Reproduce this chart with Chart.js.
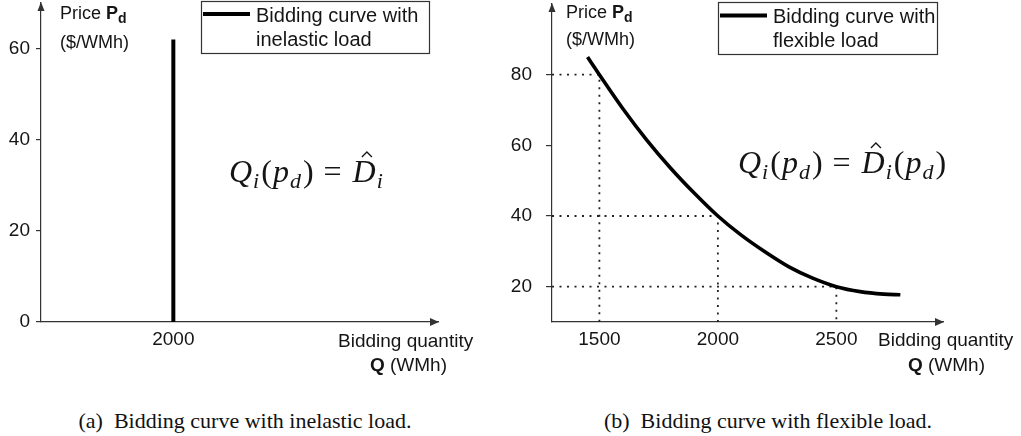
<!DOCTYPE html>
<html>
<head>
<meta charset="utf-8">
<title>Bidding curves</title>
<script src="https://cdn.jsdelivr.net/npm/chart.js@4.4.1/dist/chart.umd.min.js"></script>
<style>
  body { margin: 0; background: #fff; }
  #page { position: relative; width: 1021px; height: 436px; overflow: hidden; background: #fff; }
  #chartA { position: absolute; left: 0; top: 0; }
  #chartB { position: absolute; left: 500px; top: 0; }
  .caption { position: absolute; top: 410px; font: 22px "Liberation Serif", serif; line-height: 22px;
             white-space: nowrap; color: #111; transform: translateX(-50%); }
</style>
</head>
<body>
<div id="page">
  <canvas id="chartA" width="500" height="380"></canvas>
  <canvas id="chartB" width="521" height="380"></canvas>
  <div class="caption" id="capA" style="left:245px"></div>
  <div class="caption" id="capB" style="left:768px"></div>
</div>
<script>
// (a) inelastic load: vertical bid at a fixed quantity
var inelasticQ = [2000, 2000];
var inelasticP = [0, 62];
var xTicksA = [2000];
var yTicksA = [0, 20, 40, 60];
var legendA = ["Bidding curve with", "inelastic load"];

// (b) flexible load: price falls as quantity grows
var flexQ = [1450, 1500, 1600, 1700, 1800, 1900, 2000, 2100, 2200, 2300, 2400, 2500, 2600, 2700, 2770];
var flexP = [85, 80, 70.3, 61.5, 53.6, 46.5, 40, 34.5, 29.8, 25.6, 22.4, 20.0, 18.6, 17.9, 17.7];
var guideQ = [1500, 2000, 2500];
var guideP = [80, 40, 20];
var xTicksB = [1500, 2000, 2500];
var yTicksB = [20, 40, 60, 80];
var legendB = ["Bidding curve with", "flexible load"];

var captions = ["(a)\u2002Bidding curve with inelastic load.", "(b)\u2002Bidding curve with flexible load."];

var formulaA = [["Q", "it"], ["i", "sub"], ["(", "rm"], ["p", "it"], ["d", "sub"], [")", "rm"], ["=", "rel"], ["D", "hat"], ["i", "sub"]];
var formulaB = formulaA.concat([["(", "rm"], ["p", "it"], ["d", "sub"], [")", "rm"]]);

var SANS = '"Liberation Sans", Arial, sans-serif';
var SERIF = '"Liberation Serif", serif';
var AXIS = '#333';
var TXT = '#151515';

document.getElementById('capA').textContent = captions[0];
document.getElementById('capB').textContent = captions[1];

function pts(xs, ys) {
    return xs.map(function (x, i) { return {x: x, y: ys[i]}; });
}

function mathRuns(tokens) {
    return tokens.map(function (t) {
        var s = t[1];
        if (s == 'sub') return {text: t[0], font: 'italic 22px ' + SERIF, dy: 6, gap: 1};
        if (s == 'rm') return {text: t[0], font: '32px ' + SERIF, gap: 2};
        if (s == 'rel') return {text: t[0], font: '32px ' + SERIF, gap: 10, after: 10};
        if (s == 'hat') return {text: t[0], font: 'italic 32px ' + SERIF, hat: true, gap: 1};
        return {text: t[0], font: 'italic 32px ' + SERIF, gap: 1};
    });
}

function drawRuns(ctx, runs, x, y) {
    runs.forEach(function (r) {
        ctx.font = r.font;
        x += r.gap || 0;
        var w = ctx.measureText(r.text).width;
        ctx.fillText(r.text, x, y + (r.dy || 0));
        if (r.hat) {
            var cx = x + w * 0.62;
            ctx.save();
            ctx.lineWidth = 1.3;
            ctx.strokeStyle = TXT;
            ctx.beginPath();
            ctx.moveTo(cx - 5, y - 25);
            ctx.lineTo(cx, y - 30);
            ctx.lineTo(cx + 5, y - 25);
            ctx.stroke();
            ctx.restore();
        }
        x += w + (r.after || 0);
    });
    return x;
}

function runsWidth(ctx, runs) {
    var w = 0;
    runs.forEach(function (r) {
        ctx.font = r.font;
        w += ctx.measureText(r.text).width + (r.gap || 0) + (r.after || 0);
    });
    return w;
}

// text, legend box and axis arrows drawn on top of the chart
function notesPlugin(n) {
    return {
        id: 'notes',
        afterDraw: function (chart) {
            var ctx = chart.ctx, a = chart.chartArea;
            ctx.save();
            ctx.fillStyle = AXIS;
            // arrow heads
            ctx.beginPath();
            ctx.moveTo(a.left, a.top - 1);
            ctx.lineTo(a.left - 3.5, a.top + 8);
            ctx.lineTo(a.left + 3.5, a.top + 8);
            ctx.closePath();
            ctx.fill();
            ctx.beginPath();
            ctx.moveTo(a.right + 1, a.bottom);
            ctx.lineTo(a.right - 8, a.bottom - 4);
            ctx.lineTo(a.right - 8, a.bottom + 4);
            ctx.closePath();
            ctx.fill();

            ctx.fillStyle = TXT;
            ctx.textBaseline = 'alphabetic';
            ctx.textAlign = 'left';
            // y title
            drawRuns(ctx, [
                {text: 'Price ', font: '18px ' + SANS},
                {text: 'P', font: 'bold 18px ' + SANS},
                {text: 'd', font: 'bold 14px ' + SANS, dy: 4}
            ], n.yTitle[0], n.yTitle[1]);
            ctx.font = '18px ' + SANS;
            ctx.fillText('($/WMh)', n.yTitle[0], n.yTitle[2]);
            // x title
            ctx.font = '19px ' + SANS;
            ctx.fillText('Bidding quantity', n.xTitle[0], n.xTitle[1]);
            var q = [{text: 'Q', font: 'bold 19px ' + SANS}, {text: ' (WMh)', font: '19px ' + SANS}];
            drawRuns(ctx, q, n.xTitle[2] - runsWidth(ctx, q), n.xTitle[3]);

            // legend
            var b = n.legend;
            ctx.fillStyle = '#fff';
            ctx.fillRect(b.box[0], b.box[1], b.box[2], b.box[3]);
            ctx.strokeStyle = AXIS;
            ctx.lineWidth = 1.2;
            ctx.strokeRect(b.box[0] + 0.5, b.box[1] + 0.5, b.box[2], b.box[3]);
            ctx.strokeStyle = '#000';
            ctx.lineWidth = 4;
            ctx.beginPath();
            ctx.moveTo(b.line[0], b.line[2]);
            ctx.lineTo(b.line[1], b.line[2]);
            ctx.stroke();
            ctx.fillStyle = TXT;
            ctx.font = '20px ' + SANS;
            b.text.forEach(function (t, i) { ctx.fillText(t, b.textX, b.textY[i]); });

            // formula
            drawRuns(ctx, mathRuns(n.formula), n.fx, n.fy);
            ctx.restore();
        }
    };
}

function noEdgePadding(s) {
    s.paddingTop = 0;
    s.paddingBottom = 0;
    s.paddingLeft = 0;
    s.paddingRight = 0;
}

function makeOptions(o) {
    return {
        responsive: false,
        animation: false,
        events: [],
        layout: {padding: o.pad},
        plugins: {legend: {display: false}, tooltip: {enabled: false}},
        scales: {
            x: {
                type: 'linear', min: o.xMin, max: o.xMax,
                afterBuildTicks: function (s) { s.ticks = o.xTicks.map(function (v) { return {value: v}; }); },
                afterFit: function (s) { s.height = 58; noEdgePadding(s); },
                grid: {display: true, drawOnChartArea: false, drawTicks: false},
                border: {color: AXIS, width: 1.2},
                ticks: {color: TXT, font: {family: SANS, size: 19}, padding: 6, maxRotation: 0,
                        callback: function (v) { return String(v); }}
            },
            y: {
                type: 'linear', min: o.yMin, max: o.yMax,
                afterBuildTicks: function (s) { s.ticks = o.yTicks.map(function (v) { return {value: v}; }); },
                afterFit: function (s) { s.width = o.yWidth; noEdgePadding(s); },
                grid: {display: true, drawOnChartArea: false, drawTicks: true, tickLength: o.tickLen, color: AXIS, lineWidth: 1.2},
                border: {color: AXIS, width: 1.2},
                ticks: {color: TXT, font: {family: SANS, size: 19}, padding: o.yPad,
                        callback: function (v) { return String(v); }}
            }
        }
    };
}

function build() {
    new Chart(document.getElementById('chartA'), {
        type: 'line',
        data: {
            datasets: [{
                label: legendA.join(' '),
                data: pts(inelasticQ, inelasticP),
                borderColor: '#000', borderWidth: 4, pointRadius: 0, fill: false
            }]
        },
        options: makeOptions({
            pad: {top: 3, right: 62, left: 0, bottom: 0},
            xMin: 1500, xMax: 3000, yMin: 0, yMax: 70,
            xTicks: xTicksA, yTicks: yTicksA, yWidth: 41, tickLen: 5, yPad: 6
        }),
        plugins: [notesPlugin({
            yTitle: [60, 19, 48],
            xTitle: [338, 347, 447, 371],
            legend: {box: [201, 1, 228, 52], line: [203, 250, 14], textX: 256, textY: [22, 46], text: legendA},
            formula: formulaA, fx: 228, fy: 182
        })]
    });

    var guides = guideQ.map(function (q, i) {
        return {
            data: [{x: 1300, y: guideP[i]}, {x: q, y: guideP[i]}, {x: q, y: 10}],
            borderColor: '#222', borderWidth: 1.8, borderDash: [2, 5.5], pointRadius: 0, fill: false, tension: 0
        };
    });

    new Chart(document.getElementById('chartB'), {
        type: 'line',
        data: {
            datasets: [{
                label: legendB.join(' '),
                data: pts(flexQ, flexP),
                borderColor: '#000', borderWidth: 3.6, pointRadius: 0, fill: false,
                cubicInterpolationMode: 'monotone'
            }].concat(guides)
        },
        options: makeOptions({
            pad: {top: 4, right: 78, left: 0, bottom: 0},
            xMin: 1300, xMax: 2950, yMin: 10, yMax: 100,
            xTicks: xTicksB, yTicks: yTicksB, yWidth: 52, tickLen: 6, yPad: 14
        }),
        plugins: [notesPlugin({
            yTitle: [66, 18, 45],
            xTitle: [378, 346, 485, 371],
            legend: {box: [218, 2, 219, 52], line: [220, 267, 15.5], textX: 273, textY: [23, 47], text: legendB},
            formula: formulaB, fx: 237, fy: 173
        })]
    });
}

Promise.all([
    document.fonts.load('italic 32px "Liberation Serif"'),
    document.fonts.load('32px "Liberation Serif"'),
    document.fonts.load('19px "Liberation Sans"'),
    document.fonts.load('bold 19px "Liberation Sans"')
]).then(build, build);
</script>
</body>
</html>
